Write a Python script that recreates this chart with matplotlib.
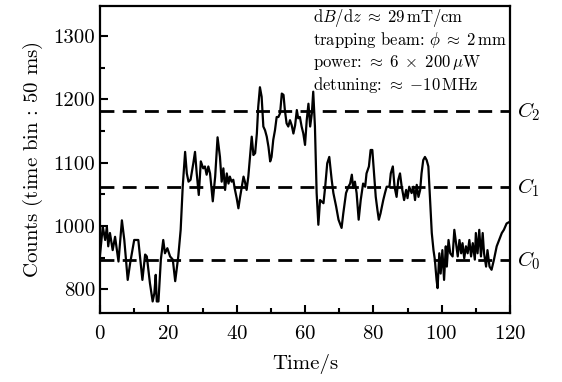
import numpy as np
import matplotlib
matplotlib.use("Agg")
import matplotlib.pyplot as plt
from matplotlib.ticker import MultipleLocator, FixedLocator, FixedFormatter

plt.rcParams['font.family'] = 'serif'
plt.rcParams['font.serif'] = ['cmr10']
plt.rcParams['mathtext.fontset'] = 'cm'
plt.rcParams['axes.formatter.use_mathtext'] = True

# trace (time in s, counts)
time = [0.0, 0.8, 1.5, 2.0, 2.4, 2.9, 3.7, 4.4, 5.4, 6.4, 7.1, 8.1, 8.8, 10.0,
        11.2, 12.4, 13.2, 13.7, 14.6, 15.4, 15.9, 16.3, 16.6, 17.1, 17.8, 18.5,
        19.0, 19.7, 20.5, 21.3, 22.0, 22.9, 23.6, 24.2, 24.9, 25.4, 25.9, 26.5,
        27.3, 27.8, 28.3, 28.9, 29.5, 30.2, 30.7, 31.2, 31.7, 32.2, 33.0, 33.7,
        34.4, 35.1, 35.6, 36.1, 36.6, 37.1, 37.6, 38.0, 38.5, 39.0, 39.5, 40.0,
        40.5, 41.0, 41.5, 42.0, 42.4, 42.9, 43.4, 43.9, 44.4, 44.9, 45.4, 45.9,
        46.3, 46.8, 47.3, 47.8, 48.3, 48.8, 49.3, 49.8, 50.2, 50.7, 51.2, 51.7,
        52.2, 52.7, 53.2, 53.7, 54.1, 54.6, 55.1, 55.6, 56.1, 56.6, 57.1, 57.6,
        58.0, 58.5, 59.0, 59.5, 60.0, 60.5, 61.0, 61.5, 62.0, 62.4, 62.9, 63.4,
        63.9, 64.4, 65.4, 65.9, 66.5, 67.1, 67.8, 68.3, 69.1, 69.8, 70.2, 70.7,
        71.2, 72.0, 72.7, 73.2, 73.7, 74.1, 74.6, 75.1, 75.7, 76.3, 77.0, 77.6,
        78.0, 78.7, 79.2, 79.7, 80.2, 80.7, 81.2, 81.6, 82.1, 82.9, 83.4, 83.9,
        84.7, 85.1, 85.7, 86.2, 86.8, 87.3, 87.8, 88.3, 89.0, 89.6, 90.0, 90.5,
        91.2, 91.7, 92.2, 92.7, 93.2, 93.7, 94.1, 94.6, 95.1, 95.6, 96.1, 96.6,
        97.1, 97.6, 98.0, 98.5, 98.8, 99.3, 99.7, 100.2, 100.7, 101.2, 101.5,
        102.0, 102.5, 103.2, 103.7, 104.2, 104.7, 105.2, 105.7, 106.1, 106.6,
        107.1, 107.6, 108.1, 108.6, 109.1, 109.7, 110.0, 110.5, 111.0, 111.5,
        112.0, 112.4, 113.0, 113.4, 114.0, 114.6, 115.3, 116.1, 116.8, 117.6,
        118.2, 119.0, 120.0]
counts = [955, 999, 978, 999, 968, 989, 962, 983, 944, 1009, 978, 915, 941, 978,
          978, 915, 955, 952, 910, 881, 894, 923, 881, 881, 947, 978,
          957, 965, 952, 947, 913, 952, 994, 1062, 1117, 1083, 1070, 1073,
          1099, 1117, 1083, 1049, 1102, 1091, 1094, 1081, 1094, 1083, 1039, 1078,
          1140, 1109, 1070, 1091, 1057, 1083, 1067, 1078, 1070, 1073, 1057, 1044,
          1028, 1046, 1062, 1078, 1070, 1057, 1078, 1109, 1141, 1112, 1115, 1146,
          1188, 1219, 1204, 1157, 1151, 1141, 1125, 1102, 1109, 1136, 1151, 1172,
          1172, 1178, 1209, 1207, 1183, 1162, 1157, 1167, 1159, 1146, 1159, 1183,
          1170, 1172, 1157, 1146, 1128, 1167, 1193, 1157, 1178, 1212, 1157, 1052,
          1002, 1041, 1036, 1062, 1099, 1109, 1073, 1052, 1031, 1010, 1004, 997,
          1020, 1052, 1062, 1067, 1081, 1060, 1070, 1052, 1010, 1041, 1067, 1062,
          1083, 1094, 1120, 1120, 1083, 1046, 1025, 1010, 1020, 1041, 1052, 1062,
          1062, 1083, 1094, 1062, 1046, 1073, 1083, 1062, 1041, 1057, 1044, 1062,
          1052, 1062, 1041, 1065, 1046, 1057, 1083, 1104, 1109, 1104, 1094, 1041,
          989, 962, 947, 915, 902, 957, 925, 962, 915, 968, 936,
          978, 957, 952, 994, 973, 952, 978, 957, 973, 949,
          968, 957, 978, 952, 973, 947, 989, 957, 994, 952,
          989, 957, 936, 962, 936, 931, 947, 968, 978, 989,
          994, 1004, 1007]

levels = [946, 1061, 1181]
level_names = ['$C_0$', '$C_1$', '$C_2$']

ytick_pos = [900, 1000, 1100, 1200, 1300]
ytick_lab = ['800', '1000', '1100', '1200', '1300']

notes = [r'$\mathrm{d}B/\mathrm{d}z \;\approx\; 29\,\mathrm{mT/cm}$',
         r'trapping beam: $\phi \;\approx\; 2\,\mathrm{mm}$',
         r'power: $\approx\; 6\;\times\; 200\,\mu\mathrm{W}$',
         r'detuning: $\approx\; {-}10\,\mathrm{MHz}$']

fig = plt.figure(figsize=(5.62, 3.82), dpi=100)
ax = fig.add_axes([0.178, 0.181, 0.7295, 0.803])

for lv in levels:
    ax.axhline(lv, color='black', lw=2.0, ls=(0, (5, 3)), zorder=1)
ax.plot(time, counts, color='black', lw=1.6, zorder=2)

for lv, name in zip(levels, level_names):
    ax.text(122, lv, name, fontsize=15, va='center', ha='left', clip_on=False)

for i, s in enumerate(notes):
    ax.text(62.3, 1328 - i * 35, s, fontsize=12, va='center', ha='left')

ax.set_xlim(0, 120)
ax.set_ylim(863, 1347)
ax.xaxis.set_major_locator(MultipleLocator(20))
ax.xaxis.set_minor_locator(MultipleLocator(10))
ax.yaxis.set_major_locator(FixedLocator(ytick_pos))
ax.yaxis.set_major_formatter(FixedFormatter(ytick_lab))
ax.yaxis.set_minor_locator(MultipleLocator(50))
ax.tick_params(which='both', direction='in', width=1.5, labelsize=15)
ax.tick_params(which='major', length=6)
ax.tick_params(which='minor', length=3.5)
ax.tick_params(axis='x', pad=9)
for sp in ax.spines.values():
    sp.set_linewidth(1.6)

ax.set_xlabel('Time/s', fontsize=15, labelpad=8)
ax.set_ylabel(r'Counts (time bin$\,:\,$50 ms)', fontsize=15, labelpad=6)

fig.savefig('out.png', dpi=100)
